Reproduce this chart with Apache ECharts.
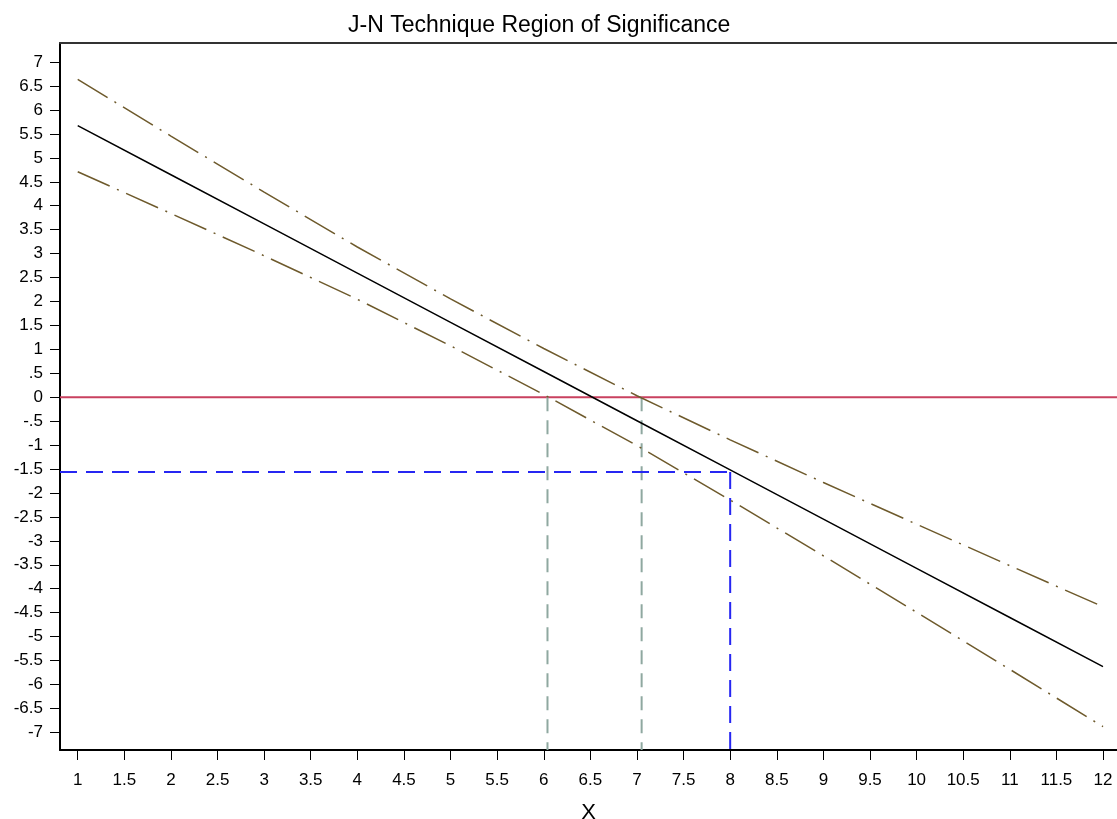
<!DOCTYPE html>
<html>
<head>
<meta charset="utf-8">
<title>J-N Technique Region of Significance</title>
<script src="https://cdn.jsdelivr.net/npm/echarts@6/dist/echarts.min.js"></script>
<style>
html, body { margin: 0; padding: 0; background: #fff; }
#chart { width: 1117px; height: 819px; }
</style>
</head>
<body>
<div id="chart"></div>
<script>
// values
var xValues = [1, 2, 3, 4, 5, 6, 7, 8, 9, 10, 11, 12]
var estimate = [5.675, 4.647, 3.62, 2.592, 1.564, 0.537, -0.491, -1.519, -2.547, -3.574, -4.602, -5.63]
var upperBand = [6.64, 5.455, 4.285, 3.138, 2.054, 1.017, 0.03, -0.89, -1.781, -2.654, -3.519, -4.378]
var lowerBand = [4.71, 3.839, 2.955, 2.046, 1.074, 0.057, -1.011, -2.148, -3.313, -4.494, -5.685, -6.882]

var jnBounds = [6.04, 7.05] // where the bands cross zero
var probeX = 8
var probeY = -1.56

var xRange = [0.81, 12.15]
var yRange = [-7.37, 7.4]
var xTicks = [1, 1.5, 2, 2.5, 3, 3.5, 4, 4.5, 5, 5.5, 6, 6.5, 7, 7.5, 8, 8.5, 9, 9.5, 10, 10.5, 11, 11.5, 12]
var yTicks = [-7, -6.5, -6, -5.5, -5, -4.5, -4, -3.5, -3, -2.5, -2, -1.5, -1, -0.5, 0,
	0.5, 1, 1.5, 2, 2.5, 3, 3.5, 4, 4.5, 5, 5.5, 6, 6.5, 7]

function pairs(xs, ys) {
	return xs.map(function(x, i) {
		return [x, ys[i]]
	})
}

function refLine(name, data, color, width, dash) {
	return {
		name: name,
		type: 'line',
		data: data,
		symbol: 'none',
		silent: true,
		lineStyle: { color: color, width: width, type: dash }
	}
}

function _chartJN(id) {
	var dom = document.getElementById(id)
	if (!dom) return
	var font = 'Liberation Sans, Arial, sans-serif'
	var bandColor = '#6E5A2C'
	var option = {
		animation: false,
		backgroundColor: '#fff',
		title: {
			text: 'J-N Technique Region of Significance',
			left: 343,
			top: 9,
			textStyle: { fontFamily: font, fontSize: 23, fontWeight: 'normal', color: '#000' }
		},
		grid: { left: 60, right: 0, top: 43, bottom: 69, outerBoundsMode: 'none' },
		xAxis: [
			{
				type: 'value',
				min: xRange[0],
				max: xRange[1],
				name: 'X',
				nameLocation: 'middle',
				nameGap: 52,
				nameTextStyle: { fontFamily: font, fontSize: 22, color: '#000' },
				axisLine: { onZero: false, lineStyle: { color: '#000', width: 2 } },
				axisTick: { customValues: xTicks, length: 10, lineStyle: { color: '#000', width: 1 } },
				axisLabel: {
					customValues: xTicks,
					margin: 22,
					fontFamily: font,
					fontSize: 17,
					color: '#000'
				},
				splitLine: { show: false }
			},
			{
				// frame line across the top
				type: 'value',
				position: 'top',
				min: xRange[0],
				max: xRange[1],
				axisLine: { show: true, onZero: false, lineStyle: { color: '#333', width: 2 } },
				axisTick: { show: false },
				axisLabel: { show: false },
				splitLine: { show: false }
			}
		],
		yAxis: {
			type: 'value',
			min: yRange[0],
			max: yRange[1],
			axisLine: { show: true, onZero: false, lineStyle: { color: '#000', width: 2 } },
			axisTick: { show: true, customValues: yTicks, length: 10, lineStyle: { color: '#000', width: 1 } },
			axisLabel: {
				customValues: yTicks,
				margin: 17,
				fontFamily: font,
				fontSize: 17,
				color: '#000',
				formatter: function(v) {
					var s = String(v)
					return s.replace(/^(-?)0\./, '$1.')
				}
			},
			splitLine: { show: false }
		},
		series: [
			refLine('zero', pairs(xRange, [0, 0]), '#C9415F', 2, 'solid'),
			refLine('lowerCross', [[jnBounds[0], 0], [jnBounds[0], yRange[0]]], '#8FA8A0', 2, [14, 9]),
			refLine('upperCross', [[jnBounds[1], 0], [jnBounds[1], yRange[0]]], '#8FA8A0', 2, [14, 9]),
			refLine('probeH', [[xRange[0], probeY], [probeX, probeY]], '#2626F2', 2, [17, 9]),
			refLine('probeV', [[probeX, probeY], [probeX, yRange[0]]], '#2626F2', 2, [17, 9]),
			refLine('upper', pairs(xValues, upperBand), bandColor, 1.5, [35, 8, 2, 8]),
			refLine('lower', pairs(xValues, lowerBand), bandColor, 1.5, [35, 8, 2, 8]),
			refLine('estimate', pairs(xValues, estimate), '#000', 1.5, 'solid')
		]
	}
	var myChart = echarts.init(dom)
	myChart.setOption(option)
	return myChart
}

_chartJN('chart')
</script>
</body>
</html>
